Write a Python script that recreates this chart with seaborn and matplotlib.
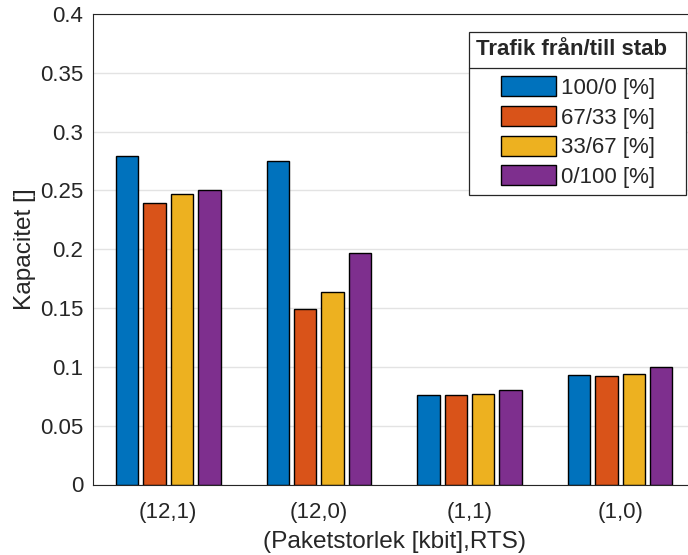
import matplotlib
matplotlib.use("Agg")
import matplotlib.pyplot as plt
import seaborn as sns
import pandas as pd
from matplotlib.lines import Line2D

categories = ["(12,1)", "(12,0)", "(1,1)", "(1,0)"]
series = ["100/0 [%]", "67/33 [%]", "33/67 [%]", "0/100 [%]"]
v_100_0 = [0.279, 0.275, 0.076, 0.093]
v_67_33 = [0.239, 0.149, 0.076, 0.092]
v_33_67 = [0.247, 0.164, 0.077, 0.094]
v_0_100 = [0.250, 0.197, 0.080, 0.100]
colors = ["#0072BD", "#D95319", "#EDB120", "#7E2F8E"]
yticks = [0, 0.05, 0.1, 0.15, 0.2, 0.25, 0.3, 0.35, 0.4]
ytick_labels = ["0", "0.05", "0.1", "0.15", "0.2", "0.25", "0.3", "0.35", "0.4"]

rows = []
for s, vals in zip(series, [v_100_0, v_67_33, v_33_67, v_0_100]):
    for c, v in zip(categories, vals):
        rows.append({"cat": c, "series": s, "value": v})
df = pd.DataFrame(rows)

sns.set_style("white")
plt.rcParams["font.family"] = ["Liberation Sans", "DejaVu Sans"]
fs = 16
lfs = 17.6

fig = plt.figure(figsize=(6.88, 5.55), dpi=100)
ax = fig.add_axes([93 / 688, 70.5 / 555, 602.4 / 688, 470.5 / 555])
ax.set_axisbelow(True)
ax.grid(True, color="#e3e3e3", linewidth=1)

sns.barplot(data=df, x="cat", y="value", hue="series", order=categories,
            hue_order=series, palette=colors, width=0.728, gap=0.187,
            edgecolor="black", linewidth=1.0, saturation=1, ax=ax,
            errorbar=None)

ax.set_xlim(-0.5, 3.5)
ax.set_ylim(0, 0.4)
ax.set_yticks(yticks)
ax.set_yticklabels(ytick_labels)
ax.tick_params(axis="both", direction="in", length=5, width=0.8,
               labelsize=fs, colors="#262626", pad=7)
ax.tick_params(axis="x", pad=12.5)
ax.set_xlabel("(Paketstorlek [kbit],RTS)", fontsize=lfs, color="#262626", labelpad=6)
ax.set_ylabel("Kapacitet []", fontsize=lfs, color="#262626", labelpad=3)
for side in ["left", "bottom", "top", "right"]:
    ax.spines[side].set_visible(True)
    ax.spines[side].set_color("#262626")
    ax.spines[side].set_linewidth(0.8)

handles, labels = ax.get_legend_handles_labels()
leg = ax.legend(handles, labels, title="Trafik från/till stab  ",
                title_fontproperties={"weight": "bold", "size": fs},
                fontsize=fs, loc="upper right",
                bbox_to_anchor=(686 / 688, 1 - 32 / 555),
                bbox_transform=fig.transFigure, borderaxespad=0,
                fancybox=False, framealpha=1, edgecolor="#262626",
                handlelength=2.48, handleheight=1.0, handletextpad=0.22,
                labelspacing=0.32, borderpad=0.3)
leg.get_frame().set_linewidth(0.9)
leg._legend_box.align = "center"
leg._legend_box.sep = 12

fig.canvas.draw()
renderer = fig.canvas.get_renderer()
bb = leg.get_window_extent()
tb = leg.get_title().get_window_extent()
hb = leg._legend_handle_box.get_window_extent(renderer)
ysep = (tb.y0 + hb.y1) / 2.0
inv = fig.transFigure.inverted()
x0, y0 = inv.transform((bb.x0, ysep))
x1, _ = inv.transform((bb.x1, ysep))
fig.add_artist(Line2D([x0, x1], [y0, y0], color="#262626", linewidth=0.9,
                      transform=fig.transFigure))

fig.savefig("out.png", dpi=100)
